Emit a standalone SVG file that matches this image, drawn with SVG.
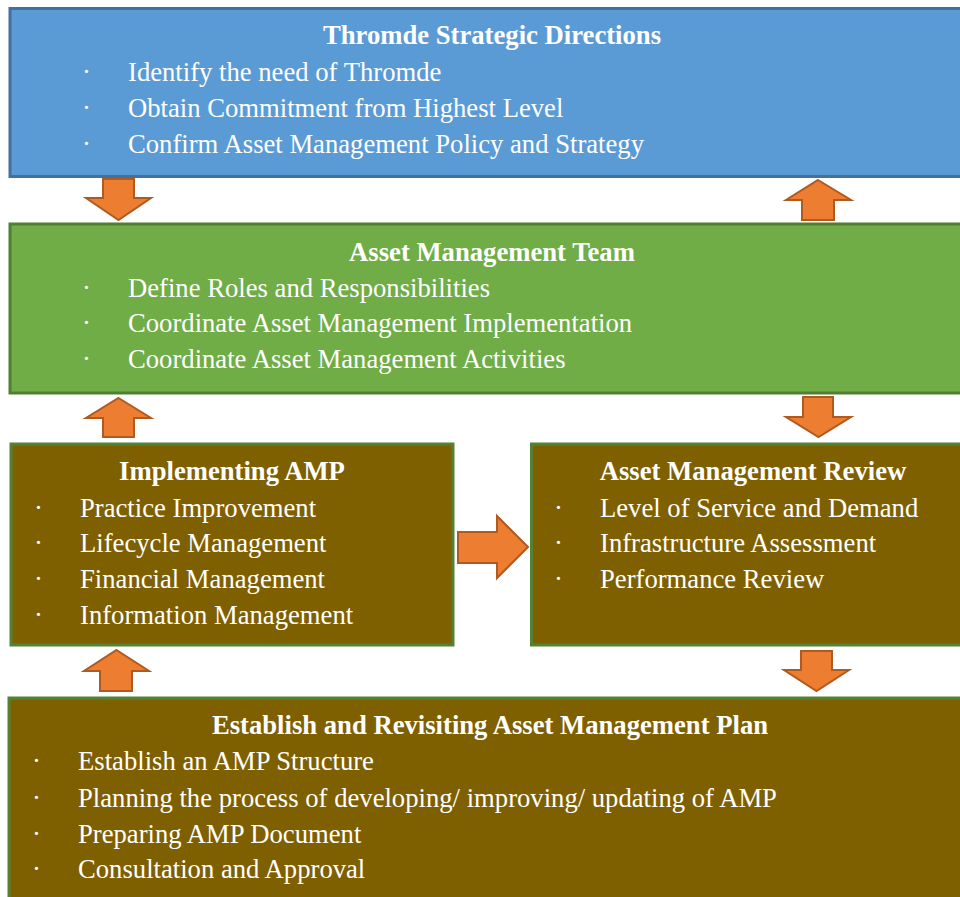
<svg xmlns="http://www.w3.org/2000/svg" width="960" height="897" viewBox="0 0 960 897">
<style>
.box{stroke-width:3}
.blue{fill:#5B9BD5;stroke:#41719C}
.green{fill:#70AD47;stroke:#507E32}
.brown{fill:#7F6000;stroke:#548235}
.t{font-family:"Liberation Serif","Times New Roman",serif;fill:#FFFFFF;font-size:26.67px}
.h{font-weight:bold;text-anchor:middle}
.arr{fill:#ED7D31;stroke:#AE5A21;stroke-width:2;stroke-linejoin:miter}
</style>
<rect width="960" height="897" fill="#FFFFFF"/>
<g id="node-strategic">
<rect class="box blue" x="10" y="8.5" width="966" height="168"/>
<text class="t h" x="492" y="44">Thromde Strategic Directions</text>
<text class="t" x="82" y="81">·</text><text class="t" x="128" y="81">Identify the need of Thromde</text>
<text class="t" x="82" y="117">·</text><text class="t" x="128" y="117">Obtain Commitment from Highest Level</text>
<text class="t" x="82" y="153">·</text><text class="t" x="128" y="153">Confirm Asset Management Policy and Strategy</text>
</g>
<g id="node-team">
<rect class="box green" x="10" y="224" width="966" height="169"/>
<text class="t h" x="492" y="261">Asset Management Team</text>
<text class="t" x="82" y="297">·</text><text class="t" x="128" y="297">Define Roles and Responsibilities</text>
<text class="t" x="82" y="332">·</text><text class="t" x="128" y="332">Coordinate Asset Management Implementation</text>
<text class="t" x="82" y="368">·</text><text class="t" x="128" y="368">Coordinate Asset Management Activities</text>
</g>
<g id="node-implementing">
<rect class="box brown" x="11" y="444" width="442" height="201"/>
<text class="t h" x="232" y="480">Implementing AMP</text>
<text class="t" x="34" y="517">·</text><text class="t" x="80" y="517">Practice Improvement</text>
<text class="t" x="34" y="552">·</text><text class="t" x="80" y="552">Lifecycle Management</text>
<text class="t" x="34" y="588">·</text><text class="t" x="80" y="588">Financial Management</text>
<text class="t" x="34" y="624">·</text><text class="t" x="80" y="624">Information Management</text>
</g>
<g id="node-review">
<rect class="box brown" x="531.5" y="444" width="445" height="201"/>
<text class="t h" x="753" y="480">Asset Management Review</text>
<text class="t" x="554" y="517">·</text><text class="t" x="600" y="517">Level of Service and Demand</text>
<text class="t" x="554" y="552">·</text><text class="t" x="600" y="552">Infrastructure Assessment</text>
<text class="t" x="554" y="588">·</text><text class="t" x="600" y="588">Performance Review</text>
</g>
<g id="node-plan">
<rect class="box brown" x="9" y="698" width="966" height="210"/>
<text class="t h" x="490" y="734">Establish and Revisiting Asset Management Plan</text>
<text class="t" x="32" y="770">·</text><text class="t" x="78" y="770">Establish an AMP Structure</text>
<text class="t" x="32" y="807">·</text><text class="t" x="78" y="807">Planning the process of developing/ improving/ updating of AMP</text>
<text class="t" x="32" y="843">·</text><text class="t" x="78" y="843">Preparing AMP Document</text>
<text class="t" x="32" y="878">·</text><text class="t" x="78" y="878">Consultation and Approval</text>
</g>
<g id="connectors">
<polygon class="arr" points="103,179 134,179 134,198 151,198 118.5,220 86,198 103,198"/>
<polygon class="arr" points="818,180 851,200 834,200 834,220 802,220 802,200 786,200"/>
<polygon class="arr" points="118.5,398 151,418 134,418 134,437 103,437 103,418 86,418"/>
<polygon class="arr" points="803,397 833,397 833,417 851,417 818.5,437 786,417 803,417"/>
<polygon class="arr" points="458,532 497,532 497,516 528,547 497,578 497,563 458,563"/>
<polygon class="arr" points="116.5,650 149,671 132,671 132,691 100,691 100,671 84,671"/>
<polygon class="arr" points="801,651 832,651 832,670 849,670 816.5,691 784,670 801,670"/>
</g>
</svg>
